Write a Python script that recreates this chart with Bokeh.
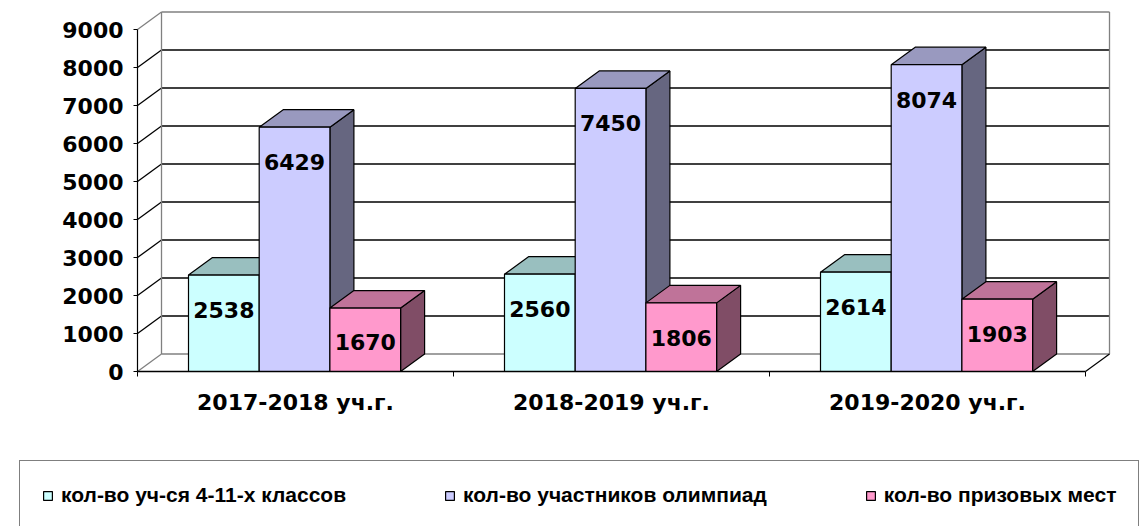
from bokeh.plotting import figure
from bokeh.models import Range1d, FixedTicker, Legend, LegendItem, ColumnDataSource
from bokeh.embed import file_html
from bokeh.resources import INLINE

# ---------------- data ----------------
categories = ["2017-2018 уч.г.", "2018-2019 уч.г.", "2019-2020 уч.г."]
series_names = ["кол-во уч-ся 4-11-х классов",
                "кол-во участников олимпиад",
                "кол-во призовых мест"]
students = [2538, 2560, 2614]
participants = [6429, 7450, 8074]
prizes = [1670, 1806, 1903]
y_ticks = [0, 1000, 2000, 3000, 4000, 5000, 6000, 7000, 8000, 9000]

series_values = [students, participants, prizes]

# ---------------- style ----------------
front_colors = ["#CCFFFF", "#CCCCFF", "#FF99CC"]
top_colors = ["#99BFBF", "#9999BF", "#BF7399"]
side_colors = ["#668080", "#666680", "#804D66"]
edge_gray = "#808080"

W, H = 1141, 526
origin_x_px, origin_y_px = 137, 371      # screen position of (0, 0)
px_per_cat = 316.0
px_per_val = 0.038
x_start = -origin_x_px / px_per_cat
x_end = (W - origin_x_px) / px_per_cat
y_start = -(H - origin_y_px) / px_per_val
y_end = origin_y_px / px_per_val

gap_left = 51.0 / px_per_cat
bar_w = 70.7 / px_per_cat
depth_x = 24.0 / px_per_cat
depth_y = 17.5 / px_per_val
label_drop_px = 35
label_floor = 30.0 / px_per_val + label_drop_px / px_per_val

n_cat = len(categories)
y_max = y_ticks[-1]

p = figure(width=W, height=H, output_backend="svg", toolbar_location=None,
           x_range=Range1d(x_start, x_end), y_range=Range1d(y_start, y_end),
           min_border=0)
p.outline_line_color = None
p.background_fill_color = "white"
p.border_fill_color = "white"
p.xgrid.visible = False
p.ygrid.visible = False

# ---------------- walls / gridlines ----------------
gx0, gy0, gx1, gy1, gc = [], [], [], [], []
for t in y_ticks:
    edge = (t == y_ticks[0] or t == y_max)
    col = edge_gray if edge else "black"
    gx0.append(depth_x); gy0.append(t + depth_y)
    gx1.append(n_cat + depth_x); gy1.append(t + depth_y); gc.append(col)
    gx0.append(0); gy0.append(t)
    gx1.append(depth_x); gy1.append(t + depth_y); gc.append(col)
for xb in (depth_x, n_cat + depth_x):
    gx0.append(xb); gy0.append(depth_y)
    gx1.append(xb); gy1.append(y_max + depth_y); gc.append(edge_gray)
p.segment(x0=gx0, y0=gy0, x1=gx1, y1=gy1, line_color=gc, line_width=1.3)
p.segment(x0=[n_cat], y0=[0], x1=[n_cat + depth_x], y1=[depth_y],
          line_color="black", line_width=1.2)

# ---------------- bars ----------------
front_renderers = []
for s, vals in enumerate(series_values):
    x0 = [c + gap_left + s * bar_w for c in range(n_cat)]
    x1 = [v + bar_w for v in x0]
    side_xs = [[a, a, a + depth_x, a + depth_x] for a in x1]
    side_ys = [[0, v, v + depth_y, depth_y] for v in vals]
    top_xs = [[a, b, b + depth_x, a + depth_x] for a, b in zip(x0, x1)]
    top_ys = [[v, v, v + depth_y, v + depth_y] for v in vals]
    p.patches(side_xs, side_ys, fill_color=side_colors[s], line_color="black", line_width=1.2)
    p.patches(top_xs, top_ys, fill_color=top_colors[s], line_color="black", line_width=1.2)
    r = p.quad(left=x0, right=x1, bottom=0, top=vals,
               fill_color=front_colors[s], line_color="black", line_width=1.2)
    front_renderers.append(r)

for s, vals in enumerate(series_values):
    xc = [c + gap_left + s * bar_w + bar_w / 2 for c in range(n_cat)]
    yl = [max(v, label_floor) for v in vals]
    src = ColumnDataSource(dict(x=xc, y=yl, t=[str(v) for v in vals]))
    p.text(x="x", y="y", text="t", source=src, text_align="center",
           text_baseline="middle", y_offset=label_drop_px,
           text_font_size="22px", text_font_style="bold",
           text_font={"value": "DejaVu Sans"}, text_color="black")

# ---------------- axes ----------------
ya = p.yaxis[0]
ya.fixed_location = 0
ya.ticker = FixedTicker(ticks=y_ticks)
ya.bounds = (0, y_max)
ya.axis_line_color = "black"
ya.axis_line_width = 1.2
ya.major_tick_out = 4
ya.major_tick_in = 0
ya.minor_tick_line_color = None
ya.major_label_standoff = 10
ya.major_label_text_font = "DejaVu Sans"
ya.major_label_text_font_style = "bold"
ya.major_label_text_font_size = "22px"
ya.major_label_text_color = "black"

xa = p.xaxis[0]
xa.fixed_location = 0
centers = [c + 0.5 for c in range(n_cat)]
xa.ticker = FixedTicker(ticks=centers, minor_ticks=list(range(n_cat + 1)))
xa.major_label_overrides = {c: lab for c, lab in zip(centers, categories)}
xa.bounds = (0, n_cat)
xa.axis_line_color = "black"
xa.axis_line_width = 1.5
xa.major_tick_out = 0
xa.major_tick_in = 0
xa.minor_tick_out = 5
xa.minor_tick_in = 0
xa.minor_tick_line_color = "black"
xa.major_label_standoff = 13
xa.major_label_text_font = "DejaVu Sans"
xa.major_label_text_font_style = "bold"
xa.major_label_text_font_size = "22px"
xa.major_label_text_color = "black"

# ---------------- legend ----------------
legend = Legend(items=[LegendItem(label=n, renderers=[r]) for n, r in zip(series_names, front_renderers)],
                orientation="horizontal", location=(19, -4),
                padding=22, spacing=98, margin=0,
                glyph_width=11, glyph_height=11, label_standoff=8,
                label_text_font="Liberation Sans", label_text_font_style="bold",
                label_text_font_size="21px", label_text_color="black",
                border_line_color="black", border_line_width=1.2,
                background_fill_color="white", background_fill_alpha=1)
p.add_layout(legend, "center")

open("out.html", "w").write(file_html(p, INLINE))
